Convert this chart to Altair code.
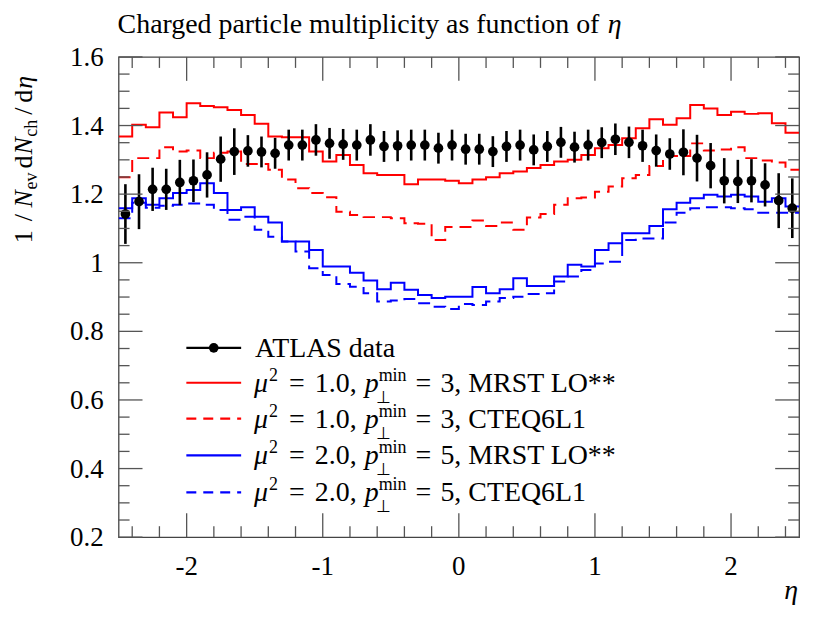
import altair as alt
import pandas as pd

# ---------------- data ----------------
eta_edges = [round(-2.5 + 0.1 * i, 2) for i in range(51)]
eta_centers = [round(-2.45 + 0.1 * i, 2) for i in range(50)]

atlas_val = [1.142, 1.178, 1.214, 1.214, 1.234, 1.239, 1.256, 1.302, 1.324, 1.326,
             1.323, 1.319, 1.343, 1.343, 1.358, 1.348, 1.345, 1.343, 1.358, 1.339,
             1.341, 1.343, 1.343, 1.334, 1.343, 1.331, 1.331, 1.324, 1.339, 1.343,
             1.329, 1.339, 1.351, 1.337, 1.343, 1.350, 1.360, 1.351, 1.341, 1.327,
             1.317, 1.322, 1.305, 1.283, 1.239, 1.237, 1.239, 1.227, 1.181, 1.159]
atlas_err = [0.087, 0.080, 0.063, 0.060, 0.066, 0.062, 0.066, 0.066, 0.068, 0.046,
             0.045, 0.045, 0.045, 0.045, 0.046, 0.045, 0.045, 0.045, 0.046, 0.045,
             0.045, 0.045, 0.045, 0.045, 0.045, 0.045, 0.045, 0.045, 0.045, 0.045,
             0.045, 0.045, 0.045, 0.045, 0.045, 0.045, 0.046, 0.046, 0.047, 0.047,
             0.046, 0.067, 0.068, 0.066, 0.066, 0.063, 0.063, 0.063, 0.080, 0.087]

mrst_mu1 = [1.368, 1.402, 1.395, 1.438, 1.424, 1.465, 1.457, 1.453, 1.445, 1.431,
            1.405, 1.368, 1.366, 1.366, 1.324, 1.295, 1.314, 1.285, 1.261, 1.256,
            1.256, 1.229, 1.243, 1.243, 1.239, 1.232, 1.243, 1.249, 1.261, 1.266,
            1.276, 1.285, 1.295, 1.300, 1.314, 1.334, 1.343, 1.363, 1.392, 1.418,
            1.402, 1.421, 1.460, 1.450, 1.431, 1.440, 1.434, 1.436, 1.407, 1.379]
cteq_mu1 = [1.249, 1.305, 1.305, 1.337, 1.324, 1.327, 1.305, 1.321, 1.324, 1.288,
            1.288, 1.271, 1.243, 1.217, 1.203, 1.191, 1.149, 1.139, 1.133, 1.133,
            1.130, 1.115, 1.114, 1.066, 1.104, 1.104, 1.123, 1.107, 1.117, 1.096,
            1.132, 1.142, 1.169, 1.188, 1.190, 1.207, 1.222, 1.246, 1.256, 1.282,
            1.311, 1.311, 1.348, 1.327, 1.330, 1.337, 1.305, 1.298, 1.292, 1.271]
mrst_mu2 = [1.159, 1.188, 1.169, 1.188, 1.203, 1.212, 1.232, 1.203, 1.154, 1.162,
            1.134, 1.117, 1.062, 1.062, 1.037, 0.989, 0.989, 0.971, 0.948, 0.923,
            0.942, 0.921, 0.906, 0.897, 0.901, 0.901, 0.929, 0.911, 0.923, 0.955,
            0.932, 0.932, 0.960, 0.994, 0.989, 1.037, 1.057, 1.086, 1.086, 1.107,
            1.156, 1.175, 1.188, 1.198, 1.193, 1.198, 1.193, 1.178, 1.188, 1.164]
cteq_mu2 = [1.130, 1.175, 1.160, 1.166, 1.169, 1.173, 1.169, 1.154, 1.125, 1.134,
            1.096, 1.076, 1.062, 1.033, 0.984, 0.964, 0.938, 0.930, 0.911, 0.887,
            0.890, 0.894, 0.882, 0.872, 0.865, 0.880, 0.877, 0.887, 0.897, 0.901,
            0.909, 0.911, 0.945, 0.960, 0.979, 0.998, 1.003, 1.066, 1.071, 1.071,
            1.117, 1.146, 1.159, 1.162, 1.162, 1.159, 1.156, 1.146, 1.146, 1.146]

x_major = [-2, -1, 0, 1, 2]
x_labels = ["-2", "-1", "0", "1", "2"]
x_minor = [-2.4, -2.2, -1.8, -1.6, -1.4, -1.2, -0.8, -0.6, -0.4, -0.2,
           0.2, 0.4, 0.6, 0.8, 1.2, 1.4, 1.6, 1.8, 2.2, 2.4]
y_major = [0.2, 0.4, 0.6, 0.8, 1.0, 1.2, 1.4, 1.6]
y_labels = ["0.2", "0.4", "0.6", "0.8", "1", "1.2", "1.4", "1.6"]
y_minor = [0.25, 0.3, 0.35, 0.45, 0.5, 0.55, 0.65, 0.7, 0.75, 0.85, 0.9, 0.95,
           1.05, 1.1, 1.15, 1.25, 1.3, 1.35, 1.45, 1.5, 1.55]

# ---------------- style ----------------
W, H = 683, 482
SERIF = "Liberation Serif"
FS = 28
SUP = 18
SUB = 17
TC = "#555555"
RED = "#ff0000"
BLUE = "#0000ff"

xscale = alt.Scale(domain=[-2.5, 2.5], nice=False, zero=False)
yscale = alt.Scale(domain=[0.2, 1.6], nice=False, zero=False)
ONE = alt.Data(values=[{"a": 1}])


def X(field):
    return alt.X(field, scale=xscale, axis=None)


def Y(field):
    return alt.Y(field, scale=yscale, axis=None)


def hist_layer(vals, color, dash=None):
    df = pd.DataFrame({"eta": eta_edges, "val": vals + [vals[-1]]})
    kw = dict(interpolate="step-after", color=color, strokeWidth=2, clip=True)
    if dash:
        kw["strokeDash"] = dash
    return alt.Chart(df).mark_line(**kw).encode(x=X("eta:Q"), y=Y("val:Q"))


def txt(s, x, y, size=FS, italic=False, angle=0, align="left"):
    return alt.Chart(ONE).mark_text(
        text=s, font=SERIF, fontSize=size,
        fontStyle="italic" if italic else "normal",
        angle=angle, align=align, baseline="alphabetic", color="black"
    ).encode(x=alt.value(x), y=alt.value(y))


layers = []
layers.append(hist_layer(mrst_mu1, RED))
layers.append(hist_layer(cteq_mu1, RED, dash=[12, 7]))
layers.append(hist_layer(mrst_mu2, BLUE))
layers.append(hist_layer(cteq_mu2, BLUE, dash=[12, 7]))

# data points with error bars
pts = pd.DataFrame({"eta": eta_centers, "val": atlas_val,
                    "lo": [v - e for v, e in zip(atlas_val, atlas_err)],
                    "hi": [v + e for v, e in zip(atlas_val, atlas_err)]})
layers.append(alt.Chart(pts).mark_rule(color="black", strokeWidth=2.6).encode(
    x=X("eta:Q"), y=Y("lo:Q"), y2="hi:Q"))
layers.append(alt.Chart(pts).mark_circle(color="black", opacity=1, size=95).encode(
    x=X("eta:Q"), y=Y("val:Q")))

# inner tick marks on all four sides
MAJ, MIN = 24, 11


def xticks(vals, length):
    d = pd.DataFrame({"t": vals})
    bot = alt.Chart(d).mark_rule(color=TC, strokeWidth=1.3).encode(
        x=X("t:Q"), y=alt.value(H), y2=alt.value(H - length))
    top = alt.Chart(d).mark_rule(color=TC, strokeWidth=1.3).encode(
        x=X("t:Q"), y=alt.value(0), y2=alt.value(length))
    return [bot, top]


def yticks(vals, length):
    d = pd.DataFrame({"t": vals})
    left = alt.Chart(d).mark_rule(color=TC, strokeWidth=1.3).encode(
        y=Y("t:Q"), x=alt.value(0), x2=alt.value(length))
    right = alt.Chart(d).mark_rule(color=TC, strokeWidth=1.3).encode(
        y=Y("t:Q"), x=alt.value(W), x2=alt.value(W - length))
    return [left, right]


layers += xticks(x_major, MAJ) + xticks(x_minor, MIN)
layers += yticks(y_major, MAJ) + yticks(y_minor, MIN)

# tick labels
layers.append(alt.Chart(pd.DataFrame({"t": x_major, "lab": x_labels})).mark_text(
    font=SERIF, fontSize=27, align="center", baseline="alphabetic", color="black"
).encode(x=X("t:Q"), y=alt.value(H + 38), text="lab:N"))
layers.append(alt.Chart(pd.DataFrame({"t": y_major, "lab": y_labels})).mark_text(
    font=SERIF, fontSize=27, align="right", baseline="alphabetic", color="black", dy=9
).encode(y=Y("t:Q"), x=alt.value(-15), text="lab:N"))

# ---------------- legend ----------------
LX1, LX2 = 68, 123
rows = [292, 327, 363, 400, 437]


def sample(y, color, dash=None):
    kw = dict(color=color, strokeWidth=2.2)
    if dash:
        kw["strokeDash"] = dash
    return alt.Chart(ONE).mark_rule(**kw).encode(
        x=alt.value(LX1), x2=alt.value(LX2), y=alt.value(y))


layers.append(sample(rows[0], "black"))
layers.append(alt.Chart(ONE).mark_circle(color="black", opacity=1, size=95).encode(
    x=alt.value((LX1 + LX2) / 2), y=alt.value(rows[0])))
layers.append(sample(rows[1], RED))
layers.append(sample(rows[2], RED, [10, 7]))
layers.append(sample(rows[3], BLUE))
layers.append(sample(rows[4], BLUE, [10, 7]))

layers.append(txt("ATLAS data", 137, rows[0] + 9))
entries = [("1.0,", "3, MRST LO**"), ("1.0,", "3, CTEQ6L1"),
           ("2.0,", "5, MRST LO**"), ("2.0,", "5, CTEQ6L1")]
for r, (mu, rest) in zip(rows[1:], entries):
    b = r + 9
    layers.append(txt("\u03bc", 136, b, italic=True))
    layers.append(txt("2", 151, b - 11, size=SUP))
    layers.append(txt("=", 171, b))
    layers.append(txt(mu, 197, b))
    layers.append(txt("p", 247, b, italic=True))
    layers.append(txt("\u22a5", 258, b + 11, size=SUB))
    layers.append(txt("min", 261, b - 11, size=SUP))
    layers.append(txt("=", 298, b))
    layers.append(txt(rest, 323, b))

# ---------------- titles ----------------
layers.append(txt("Charged particle multiplicity as function of", -1, -24))
layers.append(txt("\u03b7", 491, -24, italic=True))
layers.append(txt("\u03b7", W - 1, 544, italic=True, align="right"))

YX, YS = -87, -82
YF, YSF = 26, 18
ytitle = [("1", YX, 187, YF, False), ("/", YX, 165, YF, False), ("N", YX, 151, YF, True),
          ("ev", YS, 133, YSF, False), ("d", YX, 112, YF, False), ("N", YX, 98, YF, True),
          ("ch", YS, 80, YSF, False), ("/", YX, 58, YF, False), ("d", YX, 46, YF, False),
          ("\u03b7", YX, 32, YF, True)]
for s, x, y, sz, it in ytitle:
    layers.append(txt(s, x, y, size=sz, italic=it, angle=270))

chart = alt.layer(*layers).properties(
    width=W, height=H,
    autosize=alt.AutoSizeParams(type="none"),
    padding={"left": 111, "top": 48, "right": 25, "bottom": 75},
).configure_view(stroke="#444444", strokeWidth=1.3)

chart.save("out.html", embed_options={"renderer": "svg", "actions": False})
